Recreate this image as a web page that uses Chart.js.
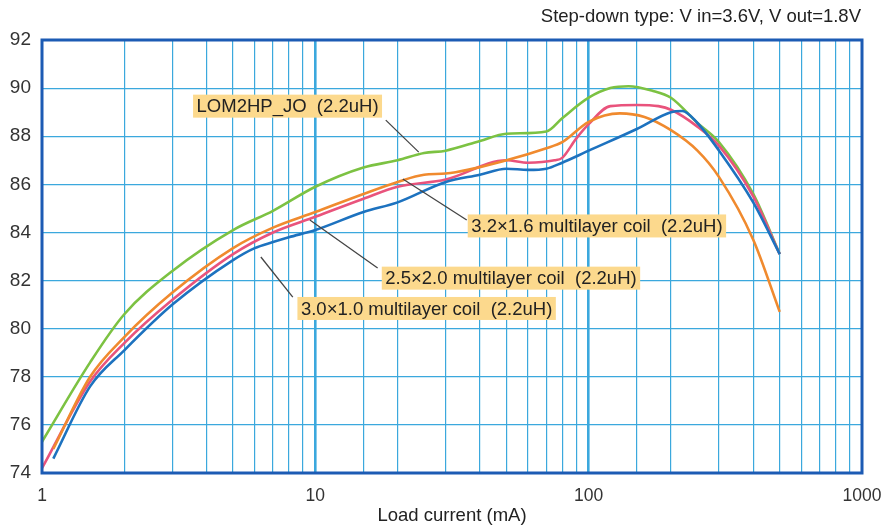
<!DOCTYPE html>
<html>
<head>
<meta charset="utf-8">
<script src="https://cdn.jsdelivr.net/npm/chart.js@4.4.0/dist/chart.umd.min.js"></script>
<style>
  html, body { margin: 0; padding: 0; background: #fff; }
  #wrap { width: 885px; height: 527px; }
</style>
</head>
<body>
<div id="wrap"><canvas id="myChart" width="885" height="527"></canvas></div>
<script>
// Load current (mA) and efficiency (%)
var lomCurrent = [1, 1.5, 2, 3, 5, 7, 10, 15, 20, 25, 30, 40, 50, 70, 80, 100, 120, 140, 170, 200, 250, 300, 400, 500];
var lomEff     = [75.3, 78.6, 80.6, 82.4, 84.1, 84.9, 85.9, 86.7, 87.0, 87.3, 87.4, 87.8, 88.1, 88.2, 88.75, 89.6, 90.0, 90.08, 89.9, 89.6, 88.55, 87.75, 85.6, 83.1];

var coil32Current = [1.1, 1.5, 2, 3, 5, 7, 10, 15, 20, 25, 30, 50, 70, 80, 100, 130, 160, 200, 250, 300, 400, 500];
var coil32Eff     = [75.0, 78.0, 79.65, 81.5, 83.35, 84.2, 84.85, 85.6, 86.1, 86.4, 86.45, 87.0, 87.5, 87.75, 88.6, 88.95, 88.8, 88.25, 87.4, 86.3, 83.7, 80.7];

var coil25Current = [1, 1.5, 2, 3, 5, 7, 10, 15, 20, 30, 50, 60, 75, 80, 90, 100, 120, 150, 180, 200, 250, 300, 400, 500];
var coil25Eff     = [74.2, 77.8, 79.4, 81.2, 83.1, 84.0, 84.65, 85.4, 85.9, 86.2, 87.0, 86.9, 87.0, 87.1, 87.9, 88.5, 89.25, 89.3, 89.25, 89.1, 88.4, 87.6, 85.5, 83.1];

var coil30Current = [1.1, 1.5, 2, 3, 5, 6, 7, 8, 10, 15, 20, 30, 40, 50, 60, 70, 80, 100, 150, 200, 220, 250, 300, 400, 500];
var coil30Eff     = [74.6, 77.6, 79.1, 81.0, 82.85, 83.35, 83.6, 83.8, 84.1, 84.85, 85.25, 86.1, 86.4, 86.65, 86.6, 86.65, 86.9, 87.4, 88.3, 89.0, 89.05, 88.55, 87.4, 85.25, 83.1];

var yTicks = [74, 76, 78, 80, 82, 84, 86, 88, 90, 92];
var xLabelTicks = [1, 10, 100, 1000];

// callout boxes: text, box left (mA), box centre (%), leader between (mA, %) points
var callouts = [
  { text: "LOM2HP_JO  (2.2uH)", x: 3.57, y: 89.25, from: [18.1, 88.67], to: [23.9, 87.34] },
  { text: "3.2\u00d71.6 multilayer coil  (2.2uH)", x: 36.1, y: 84.27, from: [20.9, 86.22], to: [35.8, 84.52] },
  { text: "2.5\u00d72.0 multilayer coil  (2.2uH)", x: 17.5, y: 82.1, from: [9.55, 84.52], to: [16.9, 82.52] },
  { text: "3.0\u00d71.0 multilayer coil  (2.2uH)", x: 8.6, y: 80.84, from: [6.32, 82.98], to: [8.27, 81.31] }
];

var FONT = "'Liberation Sans', Arial, sans-serif";

function toPoints(xs, ys) {
  return xs.map(function (x, i) { return { x: x, y: ys[i] }; });
}

var calloutPlugin = {
  id: "callouts",
  afterDatasetsDraw: function (chart) {
    var ctx = chart.ctx;
    var xs = chart.scales.x, ys = chart.scales.y;
    var a = chart.chartArea;
    ctx.save();
    // frame
    ctx.strokeStyle = "#1c5bb4";
    ctx.lineWidth = 3;
    ctx.strokeRect(a.left, a.top, a.right - a.left, a.bottom - a.top);

    ctx.font = "18.5px " + FONT;
    ctx.textBaseline = "middle";
    callouts.forEach(function (c) {
      // leader line
      ctx.strokeStyle = "#444";
      ctx.lineWidth = 1.3;
      ctx.beginPath();
      ctx.moveTo(xs.getPixelForValue(c.from[0]), ys.getPixelForValue(c.from[1]));
      ctx.lineTo(xs.getPixelForValue(c.to[0]), ys.getPixelForValue(c.to[1]));
      ctx.stroke();
    });
    callouts.forEach(function (c) {
      var left = xs.getPixelForValue(c.x);
      var cy = ys.getPixelForValue(c.y);
      var w = ctx.measureText(c.text).width + 7;
      ctx.fillStyle = "#fcd98d";
      ctx.fillRect(left, cy - 11.5, w, 23);
      ctx.fillStyle = "#222";
      ctx.textAlign = "left";
      ctx.fillText(c.text, left + 3.5, cy + 1);
    });

    // condition note
    ctx.font = "18.5px " + FONT;
    ctx.fillStyle = "#222";
    ctx.textAlign = "right";
    ctx.fillText("Step-down type: V in=3.6V, V out=1.8V", 861, 17);
    ctx.restore();
  }
};

var ctx = document.getElementById("myChart").getContext("2d");
var myChart = new Chart(ctx, {
  type: "line",
  data: {
    datasets: [
      { label: "3.0x1.0", data: toPoints(coil30Current, coil30Eff), borderColor: "#1d72bf" },
      { label: "3.2x1.6", data: toPoints(coil32Current, coil32Eff), borderColor: "#f08a2e" },
      { label: "2.5x2.0", data: toPoints(coil25Current, coil25Eff), borderColor: "#e9537c" },
      { label: "LOM2HP_JO", data: toPoints(lomCurrent, lomEff), borderColor: "#7cc242" }
    ]
  },
  options: {
    responsive: false,
    animation: false,
    devicePixelRatio: 1,
    layout: { padding: { top: 40, right: 23, left: 0, bottom: 0 } },
    elements: {
      line: { borderWidth: 2.6, tension: 0.35, cubicInterpolationMode: "monotone", fill: false },
      point: { radius: 0 }
    },
    plugins: {
      legend: { display: false },
      tooltip: { enabled: false }
    },
    scales: {
      x: {
        type: "logarithmic",
        min: 1,
        max: 1000,
        afterFit: function (s) { s.height = 54; s.paddingLeft = 0; s.paddingRight = 0; },
        border: { display: false },
        grid: {
          drawTicks: false,
          color: "#3ba8dd",
          lineWidth: function (c) {
            var v = c.tick ? c.tick.value : 0;
            return (v === 10 || v === 100) ? 2.6 : 1.2;
          }
        },
        ticks: {
          padding: 13,
          autoSkip: false,
          maxRotation: 0,
          color: "#333",
          font: { family: FONT, size: 17.5 },
          callback: function (v) { return xLabelTicks.indexOf(v) >= 0 ? String(v) : ""; }
        },
        title: {
          display: true,
          text: "Load current (mA)",
          color: "#222",
          padding: { top: 0, bottom: 0 },
          font: { family: FONT, size: 18.5 }
        }
      },
      y: {
        min: 74,
        max: 92,
        afterFit: function (s) { s.width = 42; },
        afterBuildTicks: function (s) { s.ticks = yTicks.map(function (v) { return { value: v }; }); },
        border: { display: false },
        grid: { drawTicks: false, color: "#3ba8dd", lineWidth: 1.2 },
        ticks: {
          padding: 11,
          color: "#333",
          font: { family: FONT, size: 19 }
        }
      }
    }
  },
  plugins: [calloutPlugin]
});
</script>
</body>
</html>
